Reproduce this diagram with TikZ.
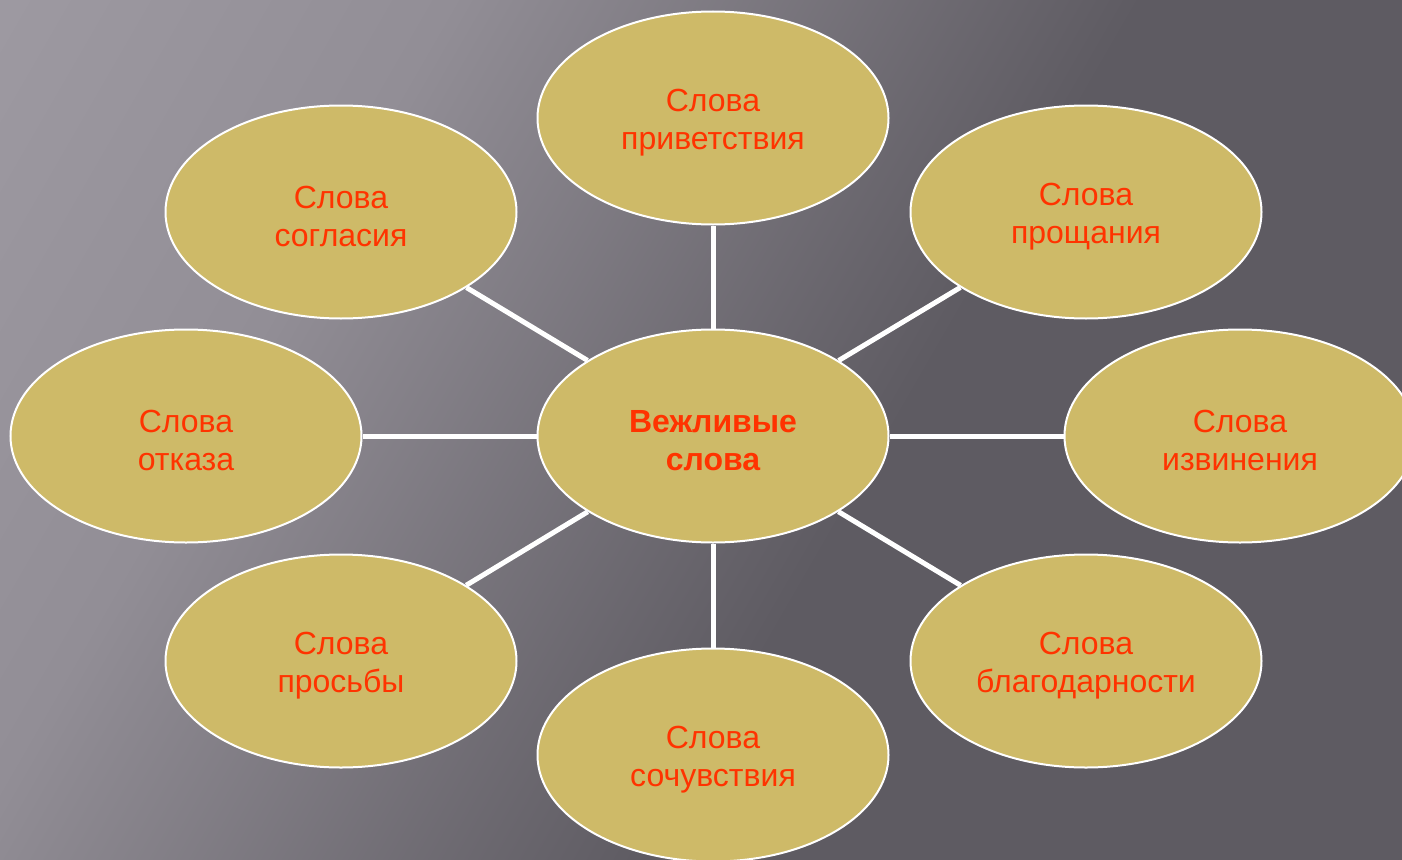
\documentclass[tikz,border=0pt]{standalone}
\usepackage{fontspec}
\setmainfont{Liberation Sans}
\usetikzlibrary{shapes.geometric}
\definecolor{fillc}{RGB}{206,186,104}
\definecolor{txtc}{RGB}{255,51,0}
\definecolor{bgA}{RGB}{168,164,172}
\definecolor{bgM}{RGB}{146,142,150}
\definecolor{bgB}{RGB}{94,91,98}
\pgfdeclarehorizontalshading{bgsh}{100bp}{color(0bp)=(bgA); color(32bp)=(bgM); color(57bp)=(bgB); color(100bp)=(bgB)}
\newcommand{\toplift}{\rule{0pt}{32pt}}
\tikzset{
  bubble/.style={ellipse, draw=white, line width=2pt, fill=fillc,
    minimum width=351pt, minimum height=213pt, inner sep=0pt,
    text=txtc, align=center, font=\fontsize{32}{38}\selectfont},
  link/.style={white, line width=5pt}
}
\begin{document}
\begin{tikzpicture}[x=1pt,y=-1pt]
\useasboundingbox (0,0) rectangle (1402,859);
\begin{scope}
\clip (0,0) rectangle (1402,859);
\shade[shading=bgsh, shading angle=-30] (0,0) rectangle (1402,859);
\node[bubble, font=\bfseries\fontsize{32}{38}\selectfont] (c) at (713,436) {\toplift Вежливые\\слова};
\node[bubble] (t)  at (713,118) {\toplift Слова\\приветствия};
\node[bubble] (tl) at (341,212) {\toplift Слова\\согласия};
\node[bubble] (tr) at (1086,212) {\toplift Слова\\прощания};
\node[bubble] (l)  at (186,436) {\toplift Слова\\отказа};
\node[bubble] (r)  at (1240,436) {\toplift Слова\\извинения};
\node[bubble] (bl) at (341,661) {\toplift Слова\\просьбы};
\node[bubble] (br) at (1086,661) {\toplift Слова\\благодарности};
\node[bubble] (b)  at (713,755) {\toplift Слова\\сочувствия};
\foreach \n in {t,tl,tr,l,r,bl,br,b} \draw[link] (c) -- (\n);
\end{scope}
\end{tikzpicture}
\end{document}
